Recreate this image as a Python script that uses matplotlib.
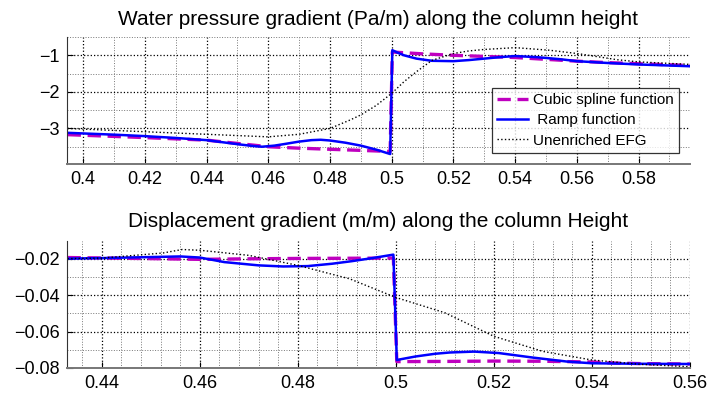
import matplotlib
matplotlib.use("Agg")
import matplotlib.pyplot as plt
from matplotlib.ticker import MultipleLocator, FuncFormatter

plt.rcParams['font.family'] = ['Liberation Sans', 'DejaVu Sans']
plt.rcParams['axes.unicode_minus'] = True

# ---- top panel: water pressure gradient ----
p_x_cubic = [0.395, 0.42, 0.44, 0.45, 0.46, 0.47, 0.48, 0.49, 0.4995,
             0.5002, 0.51, 0.52, 0.53, 0.54, 0.55, 0.56, 0.57, 0.58, 0.597]
p_y_cubic = [-3.17, -3.25, -3.32, -3.41, -3.50, -3.54, -3.57, -3.60, -3.63,
             -0.91, -0.96, -1.00, -1.03, -1.06, -1.11, -1.16, -1.20, -1.23, -1.28]

p_x_ramp = [0.395, 0.41, 0.42, 0.43, 0.44, 0.45, 0.455, 0.458, 0.462, 0.465,
            0.47, 0.474, 0.477, 0.48, 0.485, 0.49, 0.495, 0.4995,
            0.5002, 0.502, 0.504, 0.508, 0.513, 0.52, 0.525, 0.53, 0.535,
            0.54, 0.547, 0.555, 0.56, 0.57, 0.58, 0.597]
p_y_ramp = [-3.12, -3.17, -3.21, -3.26, -3.32, -3.43, -3.48, -3.50, -3.47, -3.43,
            -3.36, -3.32, -3.31, -3.33, -3.39, -3.47, -3.58, -3.70,
            -0.86, -0.93, -1.00, -1.09, -1.15, -1.16, -1.13, -1.09, -1.05,
            -1.02, -1.05, -1.11, -1.16, -1.21, -1.25, -1.30]

p_x_efg = [0.395, 0.42, 0.44, 0.46, 0.47, 0.48, 0.4865, 0.49, 0.495, 0.5,
           0.504, 0.508, 0.513, 0.52, 0.525, 0.53, 0.54, 0.551, 0.56, 0.573,
           0.58, 0.597]
p_y_efg = [-3.00, -3.09, -3.16, -3.23, -3.16, -3.00, -2.77, -2.63, -2.37, -2.04,
           -1.72, -1.45, -1.14, -0.95, -0.88, -0.84, -0.79, -0.86, -0.95, -1.12,
           -1.18, -1.25]

# ---- bottom panel: displacement gradient ----
d_x_cubic = [0.433, 0.45, 0.46, 0.47, 0.48, 0.49, 0.4995,
             0.5002, 0.51, 0.52, 0.53, 0.54, 0.545, 0.55, 0.56]
d_y_cubic = [-0.0194, -0.0200, -0.0204, -0.0201, -0.0199, -0.0198, -0.0197,
             -0.0765, -0.0764, -0.0762, -0.0763, -0.0767, -0.0773, -0.0776, -0.0778]

d_x_ramp = [0.433, 0.44, 0.4525, 0.456, 0.46, 0.465, 0.472, 0.477, 0.482,
            0.487, 0.491, 0.495, 0.4995,
            0.5002, 0.504, 0.508, 0.511, 0.516, 0.521, 0.528, 0.535, 0.54,
            0.55, 0.56]
d_y_ramp = [-0.0200, -0.0197, -0.0190, -0.0188, -0.0194, -0.0219, -0.0237, -0.0243, -0.0241,
            -0.0228, -0.0214, -0.0198, -0.0178,
            -0.0756, -0.0737, -0.0722, -0.0715, -0.0710, -0.0718, -0.0743, -0.0765, -0.0774,
            -0.0777, -0.0778]

d_x_efg = [0.433, 0.44, 0.4525, 0.4564, 0.46, 0.47, 0.48, 0.4906, 0.5, 0.51,
           0.52, 0.53, 0.54, 0.55, 0.56]
d_y_efg = [-0.0200, -0.0197, -0.0169, -0.0150, -0.0154, -0.0182, -0.0237, -0.0311,
           -0.0413, -0.0497, -0.0626, -0.0709, -0.0756, -0.0780, -0.0793]

magenta = '#bf00bf'
blue = '#0000ff'


def fmt(v, pos):
    # matlab style labels: 0.4, 0.5, -0.02 ...
    s = '%g' % round(v, 6)
    return s.replace('-', '\u2212')


def style_axes(ax, xmaj, xmin, ymaj, ymin):
    ax.xaxis.set_major_locator(MultipleLocator(xmaj))
    ax.xaxis.set_minor_locator(MultipleLocator(xmin))
    ax.yaxis.set_major_locator(MultipleLocator(ymaj))
    ax.yaxis.set_minor_locator(MultipleLocator(ymin))
    ax.xaxis.set_major_formatter(FuncFormatter(fmt))
    ax.yaxis.set_major_formatter(FuncFormatter(fmt))
    ax.grid(True, which='major', linestyle=':', color='black', linewidth=0.9)
    ax.grid(True, which='minor', linestyle=':', color='#777777', linewidth=0.7)
    ax.set_axisbelow(True)
    for s in ['top', 'right']:
        ax.spines[s].set_visible(False)
    ax.spines['left'].set_color('#333333')
    ax.spines['bottom'].set_color('#777777')
    ax.spines['bottom'].set_linewidth(1.4)
    ax.tick_params(which='major', direction='in', length=4, labelsize=13,
                   pad=5)
    ax.tick_params(which='minor', length=0)


fig = plt.figure(figsize=(7.09, 3.94), dpi=100)

ax1 = fig.add_axes([0.0945, 0.584, 0.8785, 0.322])
ax1.plot(p_x_cubic, p_y_cubic, '--', color=magenta, linewidth=2.4,
         dashes=(4, 2), label='Cubic spline function')
ax1.plot(p_x_ramp, p_y_ramp, '-', color=blue, linewidth=1.8,
         label=' Ramp function')
ax1.plot(p_x_efg, p_y_efg, ':', color='black', linewidth=1.0,
         label='Unenriched EFG')
ax1.set_xlim(0.3948, 0.5966)
ax1.set_ylim(-3.97, -0.5)
style_axes(ax1, 0.02, 0.01, 1, 0.5)
ax1.set_title('Water pressure gradient (Pa/m) along the column height',
              fontsize=15, pad=9)
leg = ax1.legend(loc='lower right', bbox_to_anchor=(0.982, 0.087),
                 fontsize=11, frameon=True, fancybox=False,
                 borderpad=0.35, labelspacing=0.4, handlelength=2.0,
                 handletextpad=0.3, borderaxespad=0)
leg.get_frame().set_edgecolor('black')
leg.get_frame().set_linewidth(0.9)

ax2 = fig.add_axes([0.0945, 0.066, 0.8785, 0.322])
ax2.plot(d_x_cubic, d_y_cubic, '--', color=magenta, linewidth=2.4,
         dashes=(4, 2))
ax2.plot(d_x_ramp, d_y_ramp, '-', color=blue, linewidth=1.8)
ax2.plot(d_x_efg, d_y_efg, ':', color='black', linewidth=1.0)
ax2.set_xlim(0.4329, 0.56)
ax2.set_ylim(-0.08, -0.0104)
style_axes(ax2, 0.02, 0.004, 0.02, 0.01)
ax2.set_title('Displacement gradient (m/m) along the column Height',
              fontsize=15, pad=10)

fig.savefig('out.png', dpi=100)
